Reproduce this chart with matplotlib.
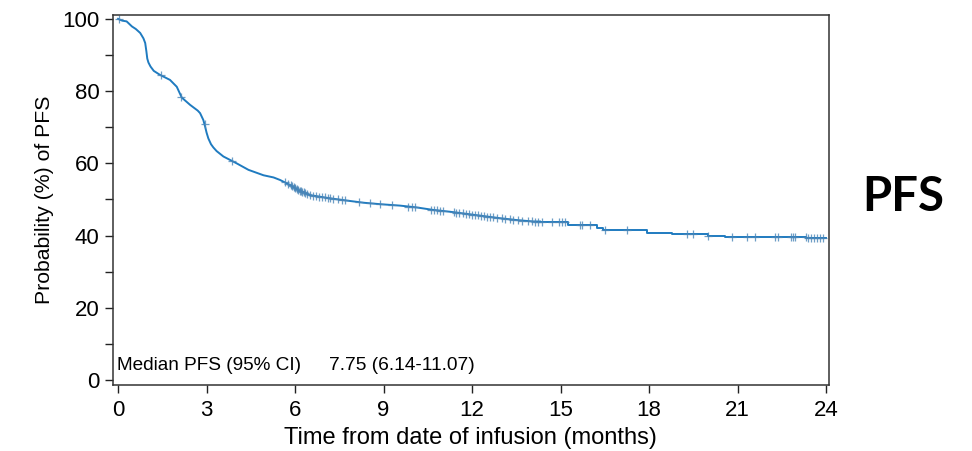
import numpy as np
import matplotlib
matplotlib.use('Agg')
import matplotlib.pyplot as plt
from matplotlib.ticker import MultipleLocator

plt.rcParams['font.family'] = ['Liberation Sans', 'DejaVu Sans']

# Kaplan-Meier curve, dense (almost continuous) part
dense_t = [0, 0.14, 0.29, 0.47, 0.6, 0.75, 0.86, 0.92, 0.96, 0.99, 1.03, 1.1, 1.21, 1.42,
           1.76, 1.99, 2.08, 2.16, 2.44, 2.7, 2.78, 2.89, 2.95, 3.0, 3.06, 3.15, 3.23,
           3.34, 3.57, 4.02, 4.42, 4.93, 5.27, 5.49, 5.83, 6.11, 6.51, 7.19, 7.75, 8.32,
           8.88, 9.56, 10.12, 10.69, 11.25, 11.82, 12.38, 12.95, 13.51, 14.08, 14.3]
dense_s = [100, 99.5, 99.3, 97.9, 97.2, 96.1, 94.6, 93.3, 91.0, 89.0, 87.9, 86.8, 85.6, 84.5,
           83.1, 81.2, 79.6, 78.2, 76.2, 74.6, 73.9, 72.0, 70.2, 68.5, 66.9, 65.3, 64.4,
           63.4, 61.9, 60.0, 58.2, 56.7, 56.1, 55.4, 54.0, 52.6, 51.2, 50.3, 49.7, 49.1,
           48.7, 48.3, 47.8, 47.1, 46.6, 46.0, 45.4, 44.8, 44.3, 43.9, 43.9]

# tail of the curve, visible steps
tail_t = [14.3, 15.25, 16.22, 16.42, 17.92, 18.77, 19.98, 20.58, 23.33, 24.0]
tail_s = [43.9, 42.9, 42.0, 41.6, 40.8, 40.4, 40.0, 39.7, 39.2, 39.2]

# censored observations
censor_t = [0.02, 1.45, 2.15, 2.93, 3.85, 5.65, 5.75, 5.85, 5.9, 5.95, 6.0, 6.05, 6.1,
            6.15, 6.2, 6.25, 6.3, 6.35, 6.4, 6.5, 6.6, 6.7, 6.8, 6.9, 7.0, 7.1, 7.2,
            7.3, 7.45, 7.6, 7.7, 8.15, 8.54, 8.88, 9.28, 9.84, 9.95, 10.07, 10.6,
            10.7, 10.8, 10.9, 11.0, 11.37, 11.45, 11.55, 11.7, 11.8, 11.9, 12.0, 12.1,
            12.2, 12.3, 12.4, 12.5, 12.6, 12.7, 12.85, 13.0, 13.1, 13.3, 13.4, 13.55,
            13.7, 13.9, 14.03, 14.14, 14.24, 14.37, 14.7, 14.93, 15.04, 15.15, 15.66,
            15.72, 16.0, 16.5, 17.24, 19.28, 19.5, 20.0, 20.8, 21.3, 21.6, 22.27,
            22.37, 22.8, 22.88, 22.95, 23.3, 23.4, 23.5, 23.6, 23.7, 23.8, 23.9]

x_ticks = [0, 3, 6, 9, 12, 15, 18, 21, 24]
y_ticks = [0, 20, 40, 60, 80, 100]

median_label = 'Median PFS (95% CI)'
median_value = '7.75 (6.14-11.07)'


def surv_at(t):
    if t <= dense_t[-1]:
        return np.interp(t, dense_t, dense_s)
    i = np.searchsorted(tail_t, t, side='right') - 1
    return tail_s[i]


color = '#1f7bc0'

fig = plt.figure(figsize=(9.72, 4.51), dpi=100)
ax = fig.add_axes([0.116, 0.146, 0.737, 0.821])

ax.plot(dense_t, dense_s, color=color, lw=1.4)
ax.plot(tail_t, tail_s, color=color, lw=1.4, drawstyle='steps-post')
cy = [surv_at(t) for t in censor_t]
ax.plot(censor_t, cy, ls='none', marker='+', ms=5.5, mew=0.9, color='#4a86b8', alpha=0.8)

ax.set_xlim(-0.18, 24.1)
ax.set_ylim(-1.4, 101.1)
ax.set_xticks(x_ticks)
ax.set_yticks(y_ticks)
ax.yaxis.set_minor_locator(MultipleLocator(10))
ax.tick_params(axis='both', which='major', labelsize=16, length=6, width=1, color='#222222')
ax.tick_params(axis='x', which='major', pad=5)
ax.tick_params(axis='y', which='minor', length=6, width=1, color='#222222')
for sp in ax.spines.values():
    sp.set_linewidth(1.1)
    sp.set_color('#333333')

ax.set_xlabel('Time from date of infusion (months)', fontsize=17, labelpad=4)
ax.set_ylabel('Probability (%) of PFS', fontsize=15.3, labelpad=6)

ax.text(-0.05, 2.9, median_label, fontsize=13.7, va='baseline', ha='left')
ax.text(7.15, 2.9, median_value, fontsize=13.8, va='baseline', ha='left')

fig.text(0.929, 0.563, 'PFS', fontsize=34, fontweight='bold',
         family=['Lato', 'Open Sans', 'DejaVu Sans'], ha='center', va='center')

fig.savefig('out.png', dpi=100)
